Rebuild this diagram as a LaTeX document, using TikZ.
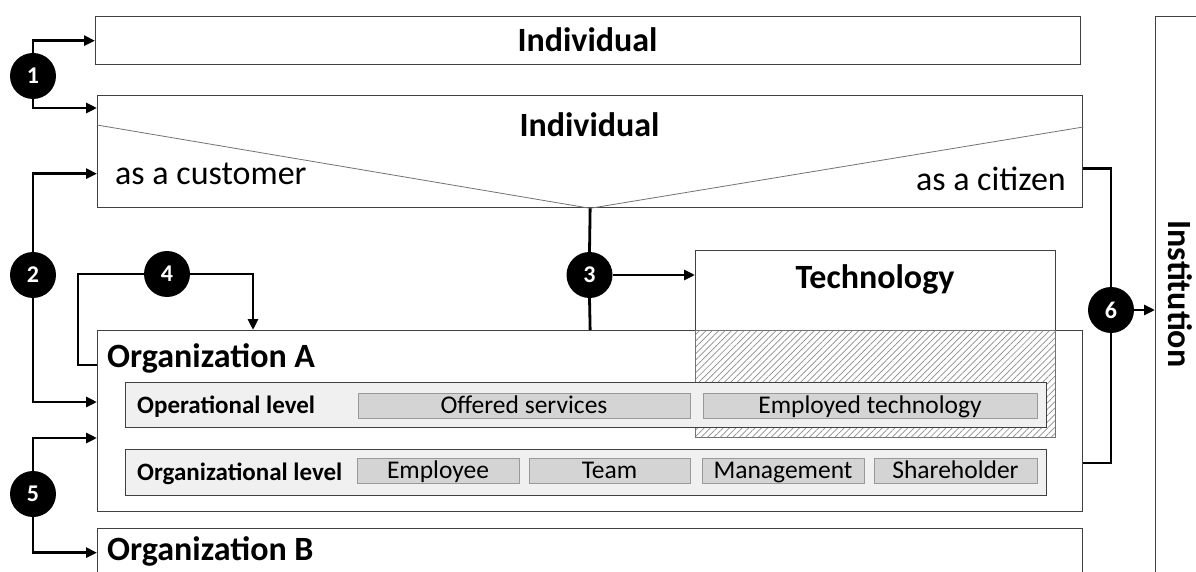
\documentclass[tikz,border=0pt]{standalone}
\usepackage{fontspec}
\setmainfont{Carlito}
\usetikzlibrary{positioning, arrows.meta, patterns.meta}
\tikzset{
	box/.style={
		draw=black!75,
		line width=1.3pt,
		fill=white,
		rectangle,
		inner sep=0pt,
		anchor=north west
	},
	hatched/.style={
		box,
		draw=black!55,
		pattern={Lines[angle=45, distance=4.5pt, line width=0.7pt]},
		pattern color=black!45
	},
	levelrow/.style={
		box,
		fill=black!6
	},
	cell/.style={
		draw=black!40,
		line width=1pt,
		fill=black!17,
		inner sep=0pt,
		minimum height=25pt,
		text height=17pt,
		text depth=3pt,
		font={\fontsize{25.5}{28}\selectfont}
	},
	titletext/.style={
		inner sep=0pt,
		font={\bfseries\fontsize{34}{36}\selectfont}
	},
	plaintext/.style={
		inner sep=0pt,
		font={\fontsize{34}{36}\selectfont}
	},
	rowtext/.style={
		inner sep=0pt,
		anchor=base west,
		font={\bfseries\fontsize{25}{28}\selectfont}
	},
	num/.style={
		circle,
		fill=black,
		text=white,
		inner sep=0pt,
		minimum size=46pt,
		font={\bfseries\fontsize{24}{24}\selectfont}
	},
	conn/.style={line width=2.8pt},
	arr/.style={conn, -{Triangle[length=11pt, width=10pt]}},
	vline/.style={draw=black!55, line width=0.8pt}
}

\begin{document}
\begin{tikzpicture}[x=1pt, y=-1pt]
	\useasboundingbox (0,0) rectangle (1196,572);

	% boxes
	\node(indtop)[box, minimum width=985pt, minimum height=48pt] at (95,16) {};
	\node(ind)[box, minimum width=985pt, minimum height=112pt] at (97,95) {};
	\node(orgA)[box, minimum width=985pt, minimum height=181pt] at (97,330) {};
	\node(orgB)[box, minimum width=985pt, minimum height=48pt] at (97,528) {};
	\node(inst)[box, minimum width=100pt, minimum height=600pt] at (1155,16) {};
	\node(tech)[box, minimum width=360pt, minimum height=187pt] at (695,250) {};
	\node(techpart)[hatched, minimum width=360pt, minimum height=107pt] at (695,330) {};

	\draw[vline] ([yshift=-30pt]ind.north west) -- (ind.south) -- ([yshift=-32pt]ind.north east);

	% texts
	\node(indtoplbl)[titletext, anchor=base] at (587.5,52) {Individual};
	\node(indlbl)[titletext, anchor=base] at (589.5,137) {Individual};
	\node(customer)[plaintext, anchor=base west] at (115,185) {as a customer};
	\node(citizen)[plaintext, anchor=base east] at (1066,190) {as a citizen};
	\node(techlbl)[titletext, anchor=base] at (875,288) {Technology};
	\node(orgAlbl)[titletext, anchor=base west] at (107,367) {Organization A};
	\node(orgBlbl)[titletext, anchor=base west] at (107,560) {Organization B};
	\node(instlbl)[titletext, rotate=-90] at (1180,294) {Institution};

	% levels of organization A
	\node(oplevel)[levelrow, minimum width=921pt, minimum height=45pt] at (125,382) {};
	\node(orglevel)[levelrow, minimum width=921pt, minimum height=46pt] at (125,449) {};
	\node(oplbl)[rowtext] at (137,413) {Operational level};
	\node(orglbl)[rowtext] at (137,480) {Organizational level};

	\node(offered)[cell, minimum width=332pt] at (524,406) {Offered services};
	\node(employed)[cell, minimum width=334pt] at (870,406) {Employed technology};
	\node(employee)[cell, minimum width=162pt] at (438,471) {Employee};
	\node(team)[cell, minimum width=161pt] at (609.5,471) {Team};
	\node(mgmt)[cell, minimum width=162pt] at (783,471) {Management};
	\node(holder)[cell, minimum width=163pt] at (955.5,471) {Shareholder};

	% numbered relations
	\node(n1)[num] at (33,76) {1};
	\node(n2)[num] at (33,275) {2};
	\node(n3)[num] at (589.5,275) {3};
	\node(n4)[num] at (167,274) {4};
	\node(n5)[num] at (33,494) {5};
	\node(n6)[num] at (1111,310) {6};

	\draw[arr] (n1.north) |- (indtop.west);
	\draw[arr] (n1.south) |- ([yshift=-13pt]ind.north west);

	\draw[arr] (n2.north) |- ([yshift=-22pt]ind.west);
	\draw[arr] (n2.south) |- ([yshift=-72pt]orgA.north west);

	\draw[conn] (ind.south) -- (n3.north);
	\draw[conn] (n3.south) -- (ind.south |- orgA.north);
	\draw[arr] (n3.east) -- (n3.east -| tech.west);

	\draw[conn] (n4.west) -| ([xshift=-19pt, yshift=-35pt]orgA.north west) -- ([yshift=-35pt]orgA.north west);
	\draw[arr] (n4.east) -| ([xshift=156pt]orgA.north west);

	\draw[arr] (n5.north) |- ([yshift=-108pt]orgA.north west);
	\draw[arr] (n5.south) |- (orgB.west);

	\draw[conn] ([yshift=-17pt]ind.east) -| (n6.north);
	\draw[conn] (n6.south) |- ([yshift=-133pt]orgA.north east);
	\draw[arr] (n6.east) -- (n6.east -| inst.west);
\end{tikzpicture}
\end{document}
